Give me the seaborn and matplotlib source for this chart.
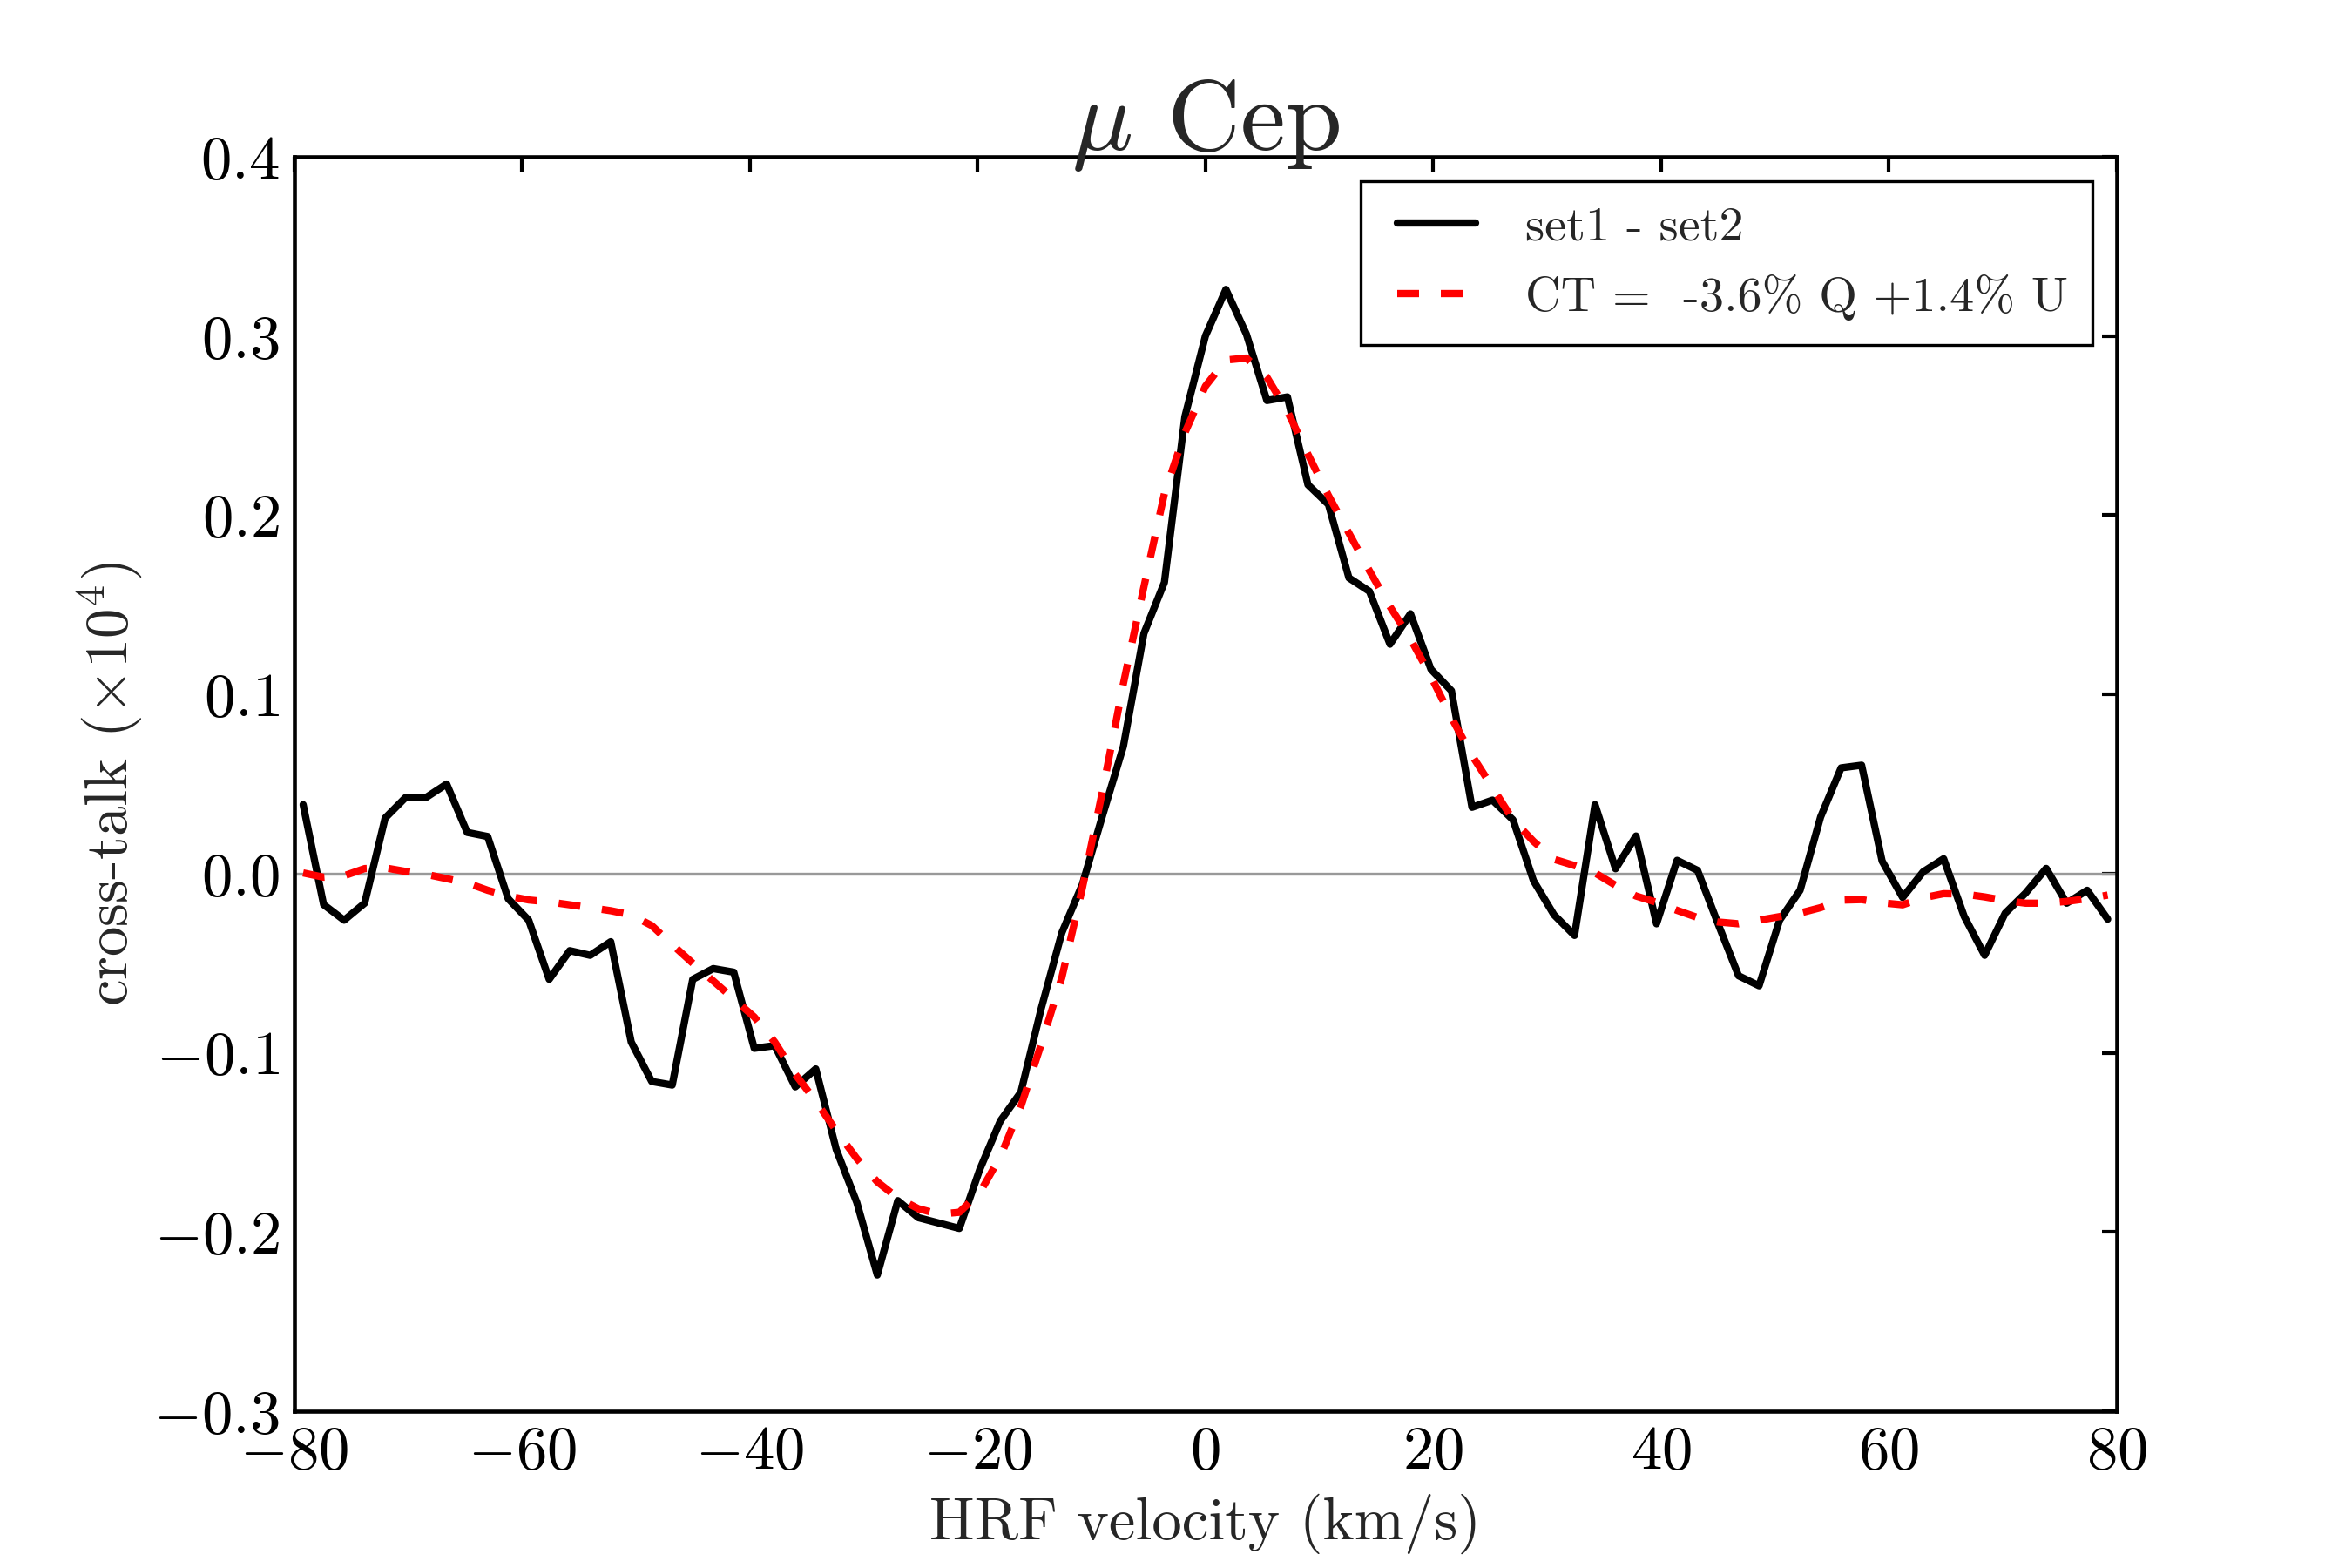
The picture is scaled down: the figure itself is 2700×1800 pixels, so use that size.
import numpy as np
import seaborn as sns
import matplotlib.pyplot as plt

# velocity grid (km/s), uniform sampling of the spectra
velocity = np.linspace(-79.2, 79.2, 89)

# set1 - set2 difference (x 1e4)
diff = [0.0385, -0.0173, -0.026, -0.0165, 0.031, 0.0425, 0.0425, 0.050, 0.023, 0.0207,
        -0.014, -0.026, -0.059, -0.043, -0.0456, -0.038, -0.094, -0.116, -0.118, -0.059,
        -0.053, -0.055, -0.0975, -0.096, -0.119, -0.109, -0.154, -0.1835, -0.224, -0.1825,
        -0.192, -0.195, -0.198, -0.165, -0.138, -0.122, -0.075, -0.033, -0.006, 0.033,
        0.071, 0.134, 0.1625, 0.255, 0.300, 0.326, 0.301, 0.264, 0.266, 0.217,
        0.206, 0.165, 0.1575, 0.128, 0.145, 0.114, 0.102, 0.037, 0.041, 0.030,
        -0.004, -0.023, -0.0345, 0.0385, 0.0027, 0.021, -0.028, 0.0074, 0.0018, -0.028,
        -0.057, -0.0626, -0.026, -0.0093, 0.0316, 0.059, 0.0605, 0.007, -0.0133, 0.001,
        0.0083, -0.0238, -0.0456, -0.0221, -0.0108, 0.0029, -0.0165, -0.0093, -0.0254]

# cross-talk fit: CT = -3.6% Q + 1.4% U
fit = [0.0004, -0.002, -0.0012, 0.0028, 0.0032, 0.0012, -0.0004, -0.0028, -0.0052, -0.0093,
       -0.0125, -0.0147, -0.0158, -0.0174, -0.019, -0.0207, -0.023, -0.029, -0.0396, -0.050,
       -0.0599, -0.070, -0.080, -0.094, -0.112, -0.127, -0.1435, -0.159, -0.172, -0.181,
       -0.187, -0.190, -0.189, -0.178, -0.158, -0.130, -0.095, -0.058, -0.008, 0.047,
       0.106, 0.160, 0.212, 0.246, 0.272, 0.2866, 0.2877, 0.277, 0.258, 0.234,
       0.211, 0.190, 0.169, 0.149, 0.131, 0.110, 0.087, 0.066, 0.048, 0.030,
       0.018, 0.008, 0.0045, 0.0004, -0.0065, -0.0125, -0.016, -0.0205, -0.0245, -0.027,
       -0.028, -0.026, -0.024, -0.022, -0.019, -0.0148, -0.0145, -0.0163, -0.0174, -0.0135,
       -0.0112, -0.0114, -0.013, -0.015, -0.0165, -0.0165, -0.0155, -0.014, -0.012]

xticks = [-80, -60, -40, -20, 0, 20, 40, 60, 80]
yticks = [-0.3, -0.2, -0.1, 0.0, 0.1, 0.2, 0.3, 0.4]

sns.set_theme(style='white')
plt.rcParams.update({
    'font.family': 'cmr10',
    'mathtext.fontset': 'cm',
    'axes.formatter.use_mathtext': True,
    'axes.unicode_minus': True,
    'axes.linewidth': 1.1,
    'axes.edgecolor': 'black',
    'xtick.direction': 'in',
    'ytick.direction': 'in',
    'xtick.top': True,
    'ytick.right': True,
    'xtick.major.size': 4,
    'ytick.major.size': 4,
    'xtick.major.width': 1.0,
    'ytick.major.width': 1.0,
    'xtick.color': 'black',
    'ytick.color': 'black',
})

fig, ax = plt.subplots(figsize=(9, 6), dpi=300)
fig.subplots_adjust(left=0.125, right=0.9, bottom=0.1, top=0.9)

ax.axhline(0, color='0.6', lw=0.8, zorder=1)
sns.lineplot(x=velocity, y=diff, color='black', lw=2.0, ax=ax,
             label='set1 - set2', zorder=3)
sns.lineplot(x=velocity, y=fit, color='red', lw=2.0, linestyle=(0, (3, 3)), ax=ax,
             label='CT =  -3.6% Q +1.4% U', zorder=4)

ax.set_xlim(-80, 80)
ax.set_ylim(-0.3, 0.4)
ax.set_xticks(xticks)
ax.set_yticks(yticks)
ax.tick_params(labelsize=17, pad=4)

ax.set_xlabel('HRF velocity (km/s)', fontsize=16.5, labelpad=3.5)
ax.set_ylabel(r'cross-talk $(\times10^4)$', fontsize=16.5, labelpad=2.5)
ax.set_title(r'$\mu$ Cep', fontsize=28, pad=2)

leg = ax.legend(loc='upper right', fontsize=13.5, frameon=True, fancybox=False,
                framealpha=1, edgecolor='black', handlelength=1.85,
                handletextpad=1.0, borderaxespad=0.5, borderpad=0.5,
                labelspacing=0.5)
leg.get_frame().set_linewidth(0.8)
# indent the handle lines a little inside the frame
for line in leg.get_lines():
    xd = np.asarray(line.get_xdata(), dtype=float)
    yd = np.asarray(line.get_ydata(), dtype=float)
    line.set_data([xd[0] + 0.25 * 13.5, xd[-1]], [yd[0], yd[0]])

fig.savefig('out.png', dpi=300)
